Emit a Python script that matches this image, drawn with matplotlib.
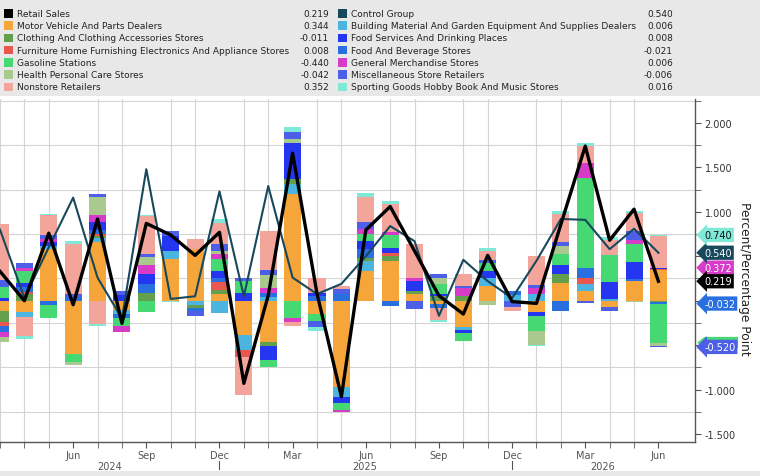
import matplotlib
matplotlib.use("Agg")
import matplotlib.pyplot as plt
import matplotlib.transforms as mtransforms
from matplotlib.patches import Rectangle, Polygon
import numpy as np

# months shown, Mar 2024 .. Jun 2026
month_abbr = ["Mar", "Apr", "May", "Jun", "Jul", "Aug", "Sep", "Oct", "Nov", "Dec", "Jan", "Feb",
              "Mar", "Apr", "May", "Jun", "Jul", "Aug", "Sep", "Oct", "Nov", "Dec", "Jan", "Feb",
              "Mar", "Apr", "May", "Jun"]
years = ["2024", "2025", "2026"]

# contributions (percentage points), stacked in this order
motor     = [-0.12, -0.13, 0.58, -0.60, 0.66, -0.11, 0.00, 0.47, 0.58, 0.07, -0.39, -0.47, 1.20, -0.15,
             -0.97, 0.34, 0.45, 0.07, -0.04, -0.30, 0.17, 0.00, -0.13, 0.20, 0.11, -0.07, 0.22, 0.344]
building  = [0.00, -0.05, 0.04, 0.00, 0.05, -0.04, 0.00, 0.09, -0.05, -0.14, -0.17, 0.04, 0.11, 0.00,
             -0.11, 0.11, 0.00, 0.00, 0.00, -0.03, 0.08, 0.06, 0.07, 0.00, 0.075, 0.02, 0.00, 0.006]
clothing  = [-0.12, 0.07, 0.00, 0.00, 0.02, 0.00, 0.09, 0.00, -0.03, 0.05, 0.00, -0.04, 0.06, 0.00,
             0.00, 0.03, 0.05, 0.04, 0.05, 0.05, 0.00, 0.00, 0.00, 0.10, 0.00, 0.00, 0.00, -0.011]
furniture = [-0.04, 0.03, 0.00, 0.00, 0.02, 0.00, 0.00, 0.00, 0.00, 0.09, -0.07, 0.00, 0.00, 0.00,
             0.00, 0.00, 0.04, 0.00, 0.00, 0.00, 0.00, 0.00, 0.00, 0.00, 0.075, 0.00, 0.00, 0.008]
foodbev   = [-0.07, 0.05, -0.05, 0.04, 0.05, -0.05, 0.10, 0.00, -0.04, 0.04, 0.00, 0.05, 0.00, 0.05,
             0.07, 0.10, -0.06, 0.00, -0.04, 0.00, 0.00, 0.05, 0.00, -0.12, 0.11, 0.00, 0.02, -0.021]
foodserv  = [0.03, 0.05, 0.04, 0.00, 0.09, 0.06, 0.11, 0.17, 0.00, 0.09, 0.09, -0.16, 0.41, 0.04,
             -0.075, 0.09, 0.05, 0.11, 0.03, -0.03, 0.09, 0.00, -0.045, 0.10, 0.00, 0.19, 0.20, 0.008]
gasoline  = [0.12, 0.13, -0.15, -0.09, 0.00, -0.09, -0.13, 0.00, 0.00, 0.13, 0.13, -0.075, -0.20, -0.075,
             -0.07, 0.08, 0.15, 0.00, 0.11, -0.09, 0.09, 0.00, -0.17, 0.13, 1.01, 0.30, 0.20, -0.440]
genmerch  = [-0.06, 0.04, 0.04, 0.00, 0.07, -0.06, 0.10, 0.00, 0.00, 0.06, 0.00, 0.05, -0.04, 0.00,
             -0.03, 0.06, 0.03, 0.03, 0.00, 0.09, 0.00, 0.00, 0.07, 0.00, 0.17, 0.00, 0.045, 0.006]
health    = [-0.06, 0.00, 0.00, -0.03, 0.21, 0.00, 0.09, 0.00, 0.00, 0.03, 0.00, 0.15, 0.04, 0.00,
             0.00, 0.00, 0.00, 0.00, 0.07, 0.00, -0.05, 0.00, -0.15, 0.09, 0.00, 0.00, -0.01, -0.042]
misc      = [0.08, 0.05, 0.04, 0.04, 0.03, 0.05, 0.04, 0.06, -0.05, 0.08, 0.03, 0.06, 0.075, -0.075,
             0.06, 0.08, 0.00, -0.09, 0.04, 0.03, 0.03, -0.07, 0.04, 0.04, -0.03, -0.045, 0.10, -0.006]
nonstore  = [0.63, -0.22, 0.22, 0.56, -0.26, 0.00, 0.42, 0.00, 0.11, 0.24, -0.43, 0.44, -0.05, 0.16,
             0.04, 0.28, 0.32, 0.39, -0.14, 0.13, 0.10, -0.05, 0.32, 0.32, 0.19, 0.17, 0.20, 0.352]
sporting  = [0.00, -0.03, 0.02, 0.03, -0.03, 0.00, 0.02, -0.02, 0.00, 0.04, 0.00, 0.00, 0.056, -0.04,
             0.00, 0.04, 0.03, 0.00, -0.02, 0.00, 0.03, 0.00, -0.02, 0.03, 0.03, 0.04, 0.03, 0.016]

retail_sales  = [0.33, 0.00, 0.76, -0.045, 0.92, -0.255, 0.87, 0.74, 0.51, 0.77, -0.93, 0.06, 1.66, 0.08,
                 -1.08, 0.795, 1.06, 0.56, 0.056, -0.15, 0.51, -0.01, -0.03, 0.86, 1.74, 0.68, 1.03, 0.219]
control_group = [0.80, 0.03, 0.60, 1.16, 0.26, -0.20, 1.48, 0.02, 0.05, 1.23, 0.05, 1.29, 0.26, 0.075,
                 0.19, 0.50, 0.84, 0.67, -0.17, 0.46, 0.22, 0.03, 0.45, 0.92, 0.91, 0.58, 0.81, 0.540]

C_MOTOR = "#f5a53a"; C_BUILD = "#4bb5e0"; C_CLOTH = "#62a04e"; C_FURN = "#e8584e"
C_FBEV = "#2a6fe0"; C_FSERV = "#2536f0"; C_GAS = "#45d873"; C_GEN = "#d73cc8"
C_HEALTH = "#a9c98f"; C_MISC = "#4c5fe6"; C_NONST = "#f4a59b"; C_SPORT = "#7fe8d6"
C_CTRL = "#17485c"

stack = [
    (motor, C_MOTOR), (building, C_BUILD), (clothing, C_CLOTH), (furniture, C_FURN),
    (foodbev, C_FBEV), (foodserv, C_FSERV), (gasoline, C_GAS), (genmerch, C_GEN),
    (health, C_HEALTH), (misc, C_MISC), (nonstore, C_NONST), (sporting, C_SPORT),
]

fig = plt.figure(figsize=(7.6, 4.77), dpi=100)
W, H = 760, 477

# legend panel
fig.patches.append(Rectangle((0, 1 - 97 / H), 1, 97 / H, transform=fig.transFigure,
                             facecolor="#e8e8e8", edgecolor="none", zorder=0))
fig.patches.append(Rectangle((0, 0), 1, 5 / H, transform=fig.transFigure,
                             facecolor="#e8e8e8", edgecolor="none", zorder=0))

legend_cols = [
    [("Retail Sales", "#000000", "0.219"),
     ("Motor Vehicle And Parts Dealers", C_MOTOR, "0.344"),
     ("Clothing And Clothing Accessories Stores", C_CLOTH, "-0.011"),
     ("Furniture Home Furnishing Electronics And Appliance Stores", C_FURN, "0.008"),
     ("Gasoline Stations", C_GAS, "-0.440"),
     ("Health Personal Care Stores", C_HEALTH, "-0.042"),
     ("Nonstore Retailers", C_NONST, "0.352")],
    [("Control Group", C_CTRL, "0.540"),
     ("Building Material And Garden Equipment And Supplies Dealers", C_BUILD, "0.006"),
     ("Food Services And Drinking Places", C_FSERV, "0.008"),
     ("Food And Beverage Stores", C_FBEV, "-0.021"),
     ("General Merchandise Stores", C_GEN, "0.006"),
     ("Miscellaneous Store Retailers", C_MISC, "-0.006"),
     ("Sporting Goods Hobby Book And Music Stores", C_SPORT, "0.016")],
]
col_x = [(4, 17, 329), (338, 351, 673)]
for (sx, tx, vx), rows in zip(col_x, legend_cols):
    for r, (name, col, val) in enumerate(rows):
        yc = 14.3 + r * 12.25
        fig.patches.append(Rectangle((sx / W, 1 - (yc + 4.2) / H), 8.5 / W, 8.4 / H,
                                     transform=fig.transFigure, facecolor=col,
                                     edgecolor="none", zorder=1))
        fig.text(tx / W, 1 - yc / H, name, fontsize=6.5, color="#222222", va="center", ha="left")
        fig.text(vx / W, 1 - yc / H, val, fontsize=6.5, color="#222222", va="center", ha="right")

ax = fig.add_axes([0, 1 - 443 / H, 695 / W, 343 / H])
x = np.arange(len(month_abbr))

pos_base = np.zeros(len(x))
neg_base = np.zeros(len(x))
for vals, col in stack:
    v = np.array(vals)
    p = np.where(v > 0, v, 0)
    q = np.where(v < 0, v, 0)
    ax.bar(x, p, bottom=pos_base, width=0.7, color=col, linewidth=0, zorder=2)
    ax.bar(x, q, bottom=neg_base, width=0.7, color=col, linewidth=0, zorder=2)
    pos_base += p
    neg_base += q

ax.plot(x, control_group, color=C_CTRL, lw=1.5, zorder=3)
ax.plot(x, retail_sales, color="black", lw=2.4, zorder=4)

ax.set_xlim(0.19, 28.5)
ax.set_ylim(-1.59, 2.27)

# grid
ax.set_xticks(x, minor=True)
ax.set_yticks(np.arange(-1.5, 2.26, 0.25), minor=True)
ax.grid(which="minor", color="#d4d4d4", lw=0.8, zorder=0)
ax.set_axisbelow(True)

# x axis labels (quarter months inside the view)
qtr = [k for k in x if month_abbr[k] in ("Mar", "Jun", "Sep", "Dec") and k >= 3]
ax.set_xticks(qtr)
ax.set_xticklabels([month_abbr[k] for k in qtr])
ax.tick_params(axis="x", which="both", direction="out", length=4, color="#555555",
               labelsize=7, labelcolor="#555555", pad=2)
tr = mtransforms.blended_transform_factory(ax.transData, ax.transAxes)
for yr, xpos in zip(years, [4.5, 14.95, 24.7]):
    ax.text(xpos, -0.069, yr, transform=tr, ha="center", va="center", fontsize=7, color="#555555")
for k in x:
    if month_abbr[k] == "Dec":
        ax.plot([k, k], [-0.056, -0.078], transform=tr, color="#555555", lw=0.8, clip_on=False)

# right y axis
ax.yaxis.tick_right()
major = np.arange(-1.5, 2.01, 0.5)
ax.set_yticks(major)
ax.set_yticklabels(["" if abs(v) < 0.6 else "%.3f" % v for v in major])
ax.tick_params(axis="y", which="both", direction="out", length=4, color="#555555",
               labelsize=7, labelcolor="#333333", pad=3)

for s in ["left", "top"]:
    ax.spines[s].set_visible(False)
for s in ["right", "bottom"]:
    ax.spines[s].set_color("#555555")
    ax.spines[s].set_linewidth(1)

# value tags on the right
tagtr = mtransforms.blended_transform_factory(ax.transAxes, ax.transData)
# gasoline tag sits mostly hidden behind the misc tag
h = 0.065
yg = -0.472
ax.add_patch(Polygon([(1.003, yg), (1.014, yg + h), (1.062, yg + h), (1.062, yg - h), (1.014, yg - h)],
                     closed=True, transform=tagtr, facecolor=C_GAS, edgecolor="none",
                     clip_on=False, zorder=9))
tags = [
    (-0.520, "-0.520", C_MISC, "white"),
    (-0.032, "-0.032", C_FBEV, "white"),
    (0.372, "0.372", C_GEN, "white"),
    (0.219, "0.219", "#000000", "white"),
    (0.540, "0.540", C_CTRL, "white"),
    (0.740, "0.740", C_SPORT, "#111111"),
]
for val, txt, bg, tc in tags:
    ax.text(1.013, val, txt, transform=tagtr, ha="left", va="center", fontsize=7, color=tc,
            clip_on=False, zorder=10,
            bbox=dict(boxstyle="larrow,pad=0.22", fc=bg, ec="none"))

fig.text(745 / W, 1 - 279 / H, "Percent/Percentage Point", rotation=270, ha="center",
         va="center", fontsize=8.8, color="#222222")

fig.savefig("out.png", dpi=100)
